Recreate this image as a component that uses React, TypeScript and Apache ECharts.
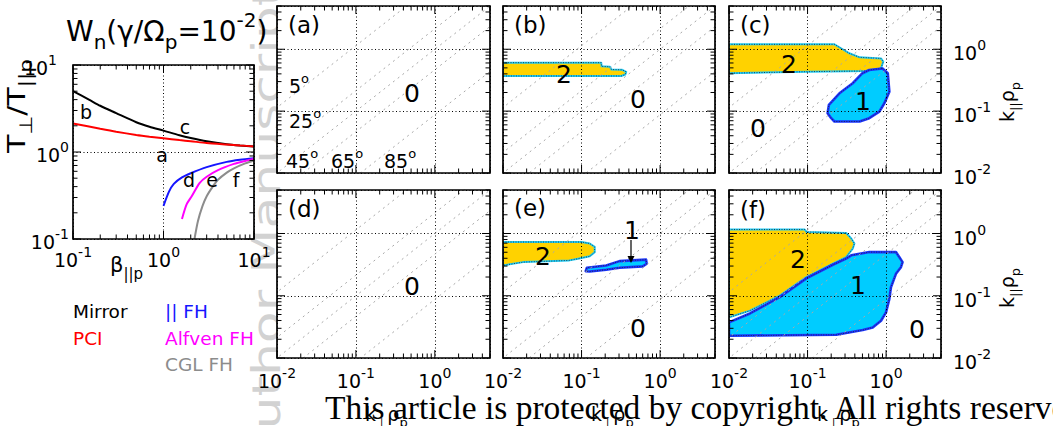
import React, { useEffect, useRef } from "react";
import * as echarts from "echarts";

const FONT = "DejaVu Sans";

// ---------- axis ranges ----------
const panelRange = [0.01, 5];
const leftRange = [0.1, 10];

// ---------- tick values (log minor ticks) ----------
const panelTicks = [
  0.01, 0.02, 0.03, 0.04, 0.05, 0.06, 0.07, 0.08, 0.09,
  0.1, 0.2, 0.3, 0.4, 0.5, 0.6, 0.7, 0.8, 0.9,
  1, 2, 3, 4, 5,
];
const leftTicks = [
  0.1, 0.2, 0.3, 0.4, 0.5, 0.6, 0.7, 0.8, 0.9,
  1, 2, 3, 4, 5, 6, 7, 8, 9, 10,
];

// propagation-angle guide lines (degrees)
const angleDegrees = [5, 25, 45, 65, 85];

// ---------- threshold curves: [beta_||p, T_perp/T_||p] ----------
const mirrorCurve = [
  [0.1, 5.0], [0.15, 4.0], [0.2, 3.4], [0.3, 2.8], [0.5, 2.2], [0.7, 1.95],
  [1, 1.76], [1.5, 1.56], [2, 1.45], [3, 1.33], [5, 1.23], [7, 1.19], [10, 1.16],
];
const pciCurve = [
  [0.1, 2.13], [0.2, 1.85], [0.3, 1.71], [0.5, 1.57], [0.7, 1.5], [1, 1.44],
  [1.5, 1.37], [2, 1.33], [3, 1.27], [5, 1.22], [7, 1.19], [10, 1.16],
];
const parFhCurve = [
  [1, 0.24], [1.15, 0.35], [1.3, 0.43], [1.6, 0.51], [2, 0.57], [3, 0.67],
  [5, 0.77], [7, 0.815], [10, 0.85],
];
const alfvenFhCurve = [
  [1.6, 0.17], [1.8, 0.25], [2.05, 0.31], [2.5, 0.44], [3, 0.52], [4, 0.62],
  [6, 0.73], [8, 0.79], [10, 0.83],
];
const cglFhCurve = [
  [2.2, 0.1], [2.4, 0.16], [2.7, 0.24], [3, 0.31], [3.5, 0.4], [4, 0.48],
  [5, 0.58], [6, 0.65], [8, 0.74], [10, 0.8],
];

// ---------- unstable regions: [k_perp rho_p, k_par rho_p] ----------
const regionB2 = [
  [0.01, 0.607], [0.178, 0.607], [0.18, 0.53], [0.23, 0.52], [0.24, 0.47],
  [0.33, 0.465], [0.37, 0.43], [0.36, 0.39], [0.32, 0.37], [0.01, 0.37],
];
const regionC2 = [
  [0.01, 1.2], [0.22, 1.2], [0.28, 1.0], [0.34, 0.86], [0.46, 0.74], [0.86, 0.71],
  [0.92, 0.63], [0.86, 0.49], [0.56, 0.446], [0.1, 0.434], [0.01, 0.41],
];
const regionC1 = [
  [0.9, 0.49], [1.05, 0.41], [1.1, 0.206], [0.95, 0.134], [0.82, 0.098],
  [0.61, 0.077], [0.46, 0.068], [0.22, 0.068], [0.2, 0.077], [0.18, 0.0925],
  [0.187, 0.126], [0.255, 0.194], [0.376, 0.282], [0.5, 0.41], [0.61, 0.462],
];
const regionE2 = [
  [0.01, 0.73], [0.1, 0.73], [0.127, 0.69], [0.147, 0.61], [0.147, 0.5],
  [0.127, 0.43], [0.09, 0.394], [0.07, 0.37], [0.018, 0.347], [0.01, 0.307],
];
const regionE1 = [
  [0.113, 0.248], [0.117, 0.282], [0.206, 0.307], [0.304, 0.36], [0.663, 0.38],
  [0.675, 0.327], [0.6, 0.296], [0.304, 0.282], [0.206, 0.262], [0.127, 0.245],
];
const regionF2 = [
  [0.01, 1.16], [0.092, 1.16], [0.097, 1.06], [0.31, 1.02], [0.36, 0.83],
  [0.395, 0.69], [0.376, 0.57], [0.31, 0.418], [0.21, 0.327], [0.0966, 0.199],
  [0.0443, 0.1006], [0.0185, 0.0576], [0.01, 0.0449],
];
const regionF1 = [
  [0.01, 0.0373], [0.0185, 0.052], [0.0443, 0.095], [0.0966, 0.19], [0.21, 0.315],
  [0.31, 0.394], [0.36, 0.446], [0.612, 0.503], [1.334, 0.503], [1.47, 0.418],
  [1.62, 0.347], [1.545, 0.288], [1.334, 0.225], [1.153, 0.137], [1.1, 0.089],
  [0.997, 0.054], [0.861, 0.0397], [0.675, 0.031], [0.504, 0.0281],
  [0.232, 0.0236], [0.01, 0.0228],
];

// ---------- layout ----------
const gridsLayout = [
  { left: 73, top: 65, width: 181, height: 174 }, // threshold panel
  { left: 277, top: 6, width: 213, height: 167 }, // a
  { left: 503, top: 6, width: 212, height: 167 }, // b
  { left: 729, top: 6, width: 212, height: 167 }, // c
  { left: 277, top: 190, width: 213, height: 168 }, // d
  { left: 503, top: 190, width: 212, height: 168 }, // e
  { left: 729, top: 190, width: 212, height: 168 }, // f
];

const panelRegions: any[][] = [
  [],
  [[regionB2, 2]],
  [[regionC2, 2], [regionC1, 1]],
  [],
  [[regionE2, 2], [regionE1, 1]],
  [[regionF2, 2], [regionF1, 1]],
];

const curveDefs = [
  { data: mirrorCurve, color: "#000000" },
  { data: pciCurve, color: "#ff0000" },
  { data: parFhCurve, color: "#1515ff" },
  { data: alfvenFhCurve, color: "#ff00ff" },
  { data: cglFhCurve, color: "#8c8c8c" },
];

const tickRich = {
  b: { fontSize: 19, fontFamily: FONT, color: "#000", lineHeight: 30, verticalAlign: "middle" },
  s: { fontSize: 14, fontFamily: FONT, color: "#000", verticalAlign: "top" },
  t: { fontSize: 14, fontFamily: FONT, color: "#000", verticalAlign: "top", padding: [0, 12, 0, 0] },
};

function expOf(v: number): number | null {
  const l = Math.log10(v);
  const e = Math.round(l);
  return Math.abs(l - e) < 1e-6 ? e : null;
}
const expLabel = (v: number) => {
  const e = expOf(v);
  return e === null ? "" : `{b|10}{s|${e}}`;
};
const leftYLabel = (v: number) => {
  const e = expOf(v);
  if (e === null) return "";
  return e === 1 ? `{b|10}{t|${e}}` : `{b|10}{s|${e}}`;
};

function axisBase(gridIndex: number, range: number[]) {
  return {
    gridIndex,
    type: "log",
    logBase: 10,
    min: range[0],
    max: range[1],
    axisLine: { show: false },
    axisTick: { show: false },
    minorTick: { show: false },
    splitLine: { show: true, lineStyle: { color: "#000", width: 1, type: [1, 2.5] } },
    z: 3,
  };
}

function tickSeries(gi: number, ticks: number[], range: number[]) {
  return {
    type: "custom",
    coordinateSystem: "cartesian2d",
    xAxisIndex: gi,
    yAxisIndex: gi,
    data: ticks.map((v) => [v, v]),
    z: 10,
    silent: true,
    clip: false,
    renderItem: (params: any, api: any) => {
      const v = api.value(0);
      const bl = api.coord([range[0], range[0]]);
      const tr = api.coord([range[1], range[1]]);
      const px = api.coord([v, range[0]])[0];
      const py = api.coord([range[0], v])[1];
      const len = expOf(v) !== null ? 8 : 4.5;
      const st = { stroke: "#000", lineWidth: 1 };
      const children: any[] = [
        { type: "line", shape: { x1: px, y1: bl[1], x2: px, y2: bl[1] - len }, style: st },
        { type: "line", shape: { x1: px, y1: tr[1], x2: px, y2: tr[1] + len }, style: st },
        { type: "line", shape: { x1: bl[0], y1: py, x2: bl[0] + len, y2: py }, style: st },
        { type: "line", shape: { x1: tr[0], y1: py, x2: tr[0] - len, y2: py }, style: st },
      ];
      if (params.dataIndex === 0) {
        children.push({
          type: "rect",
          shape: { x: bl[0], y: tr[1], width: tr[0] - bl[0], height: bl[1] - tr[1] },
          style: { fill: "none", stroke: "#000", lineWidth: 1.7 },
        });
      }
      return { type: "group", children };
    },
  };
}

function regionSeries(gi: number, pts: number[][], kind: number) {
  const fill = kind === 2 ? "#ffd200" : "#00ccff";
  const stroke = kind === 2 ? "#22ccf5" : "#1a35ff";
  const lw = kind === 2 ? 2 : 2.6;
  return {
    type: "custom",
    coordinateSystem: "cartesian2d",
    xAxisIndex: gi,
    yAxisIndex: gi,
    data: pts,
    z: 2,
    silent: true,
    clip: true,
    renderItem: (params: any, api: any) => {
      if (params.dataIndex !== 0) return null;
      const points = pts.map((p) => api.coord(p));
      return {
        type: "group",
        children: [
          { type: "polygon", shape: { points }, style: { fill, stroke, lineWidth: lw, lineJoin: "round" } },
          { type: "polygon", shape: { points }, style: { fill: "none", stroke: "#222", lineWidth: 0.8, lineDash: [1, 1.5] } },
        ],
      };
    },
  };
}

function angleSeries(gi: number) {
  return angleDegrees.map((deg) => {
    const cot = 1 / Math.tan((deg * Math.PI) / 180);
    return {
      type: "line",
      xAxisIndex: gi,
      yAxisIndex: gi,
      data: [[1e-4, 1e-4 * cot], [1e2, 1e2 * cot]],
      showSymbol: false,
      silent: true,
      clip: true,
      z: 4,
      lineStyle: { color: "#a8a8a8", width: 1, type: [2, 4] },
    };
  });
}

function richG(size: number, color: string) {
  const small = Math.round(size * 0.7);
  return {
    b: { fontSize: size, fontFamily: FONT, fill: color, lineHeight: Math.round(size * 1.5), verticalAlign: "middle" },
    s: { fontSize: small, fontFamily: FONT, fill: color, verticalAlign: "bottom" },
    u: { fontSize: small, fontFamily: FONT, fill: color, verticalAlign: "top" },
  };
}

function gtext(x: number, y: number, text: string, size: number, color: string, opts: any = {}) {
  return {
    type: "text",
    x,
    y,
    z: 100,
    silent: true,
    rotation: opts.rotation || 0,
    scaleX: opts.scaleX || 1,
    style: {
      text,
      rich: richG(size, color),
      fill: color,
      fontSize: size,
      fontFamily: opts.family || FONT,
      align: opts.align || "left",
      verticalAlign: "middle",
    },
  };
}

function buildGraphics() {
  const els: any[] = [];
  // faint watermark
  els.push({
    type: "text",
    x: 266,
    y: 465,
    rotation: Math.PI / 2,
    scaleY: 0.75,
    z: -10,
    silent: true,
    style: {
      text: "Author Manuscript",
      fontSize: 52,
      fontFamily: FONT,
      fill: "#d2d2d2",
      align: "left",
      verticalAlign: "middle",
    },
  });
  // left panel labels
  els.push(gtext(66, 31, "{b|W}{s|n}{b|(γ/Ω}{s|p}{b|=10}{u|-2}{b|)}", 28, "#000"));
  els.push(gtext(16, 106, "{b|T}{s|⊥}{b|/T}{s|||p}", 25, "#000", { align: "center", rotation: Math.PI / 2, scaleX: 1.2 }));
  els.push(gtext(110, 265, "{b|β}{s|||p}", 21, "#000"));
  const letters: [string, number, number][] = [
    ["b", 86, 112], ["c", 185, 127], ["a", 162, 155], ["d", 189, 180], ["e", 212, 180], ["f", 236, 180],
  ];
  letters.forEach(([t, x, y]) => els.push(gtext(x, y, `{b|${t}}`, 19, "#000", { align: "center" })));
  // legend
  els.push(gtext(73, 311, "{b|Mirror}", 18.5, "#000"));
  els.push(gtext(73, 338, "{b|PCI}", 18.5, "#ff0000"));
  els.push(gtext(165, 311, "{b|\u007c\u007c FH}", 18.5, "#1515ff"));
  els.push(gtext(165, 338, "{b|Alfven FH}", 18.5, "#ff00ff"));
  els.push(gtext(165, 364, "{b|CGL FH}", 18.5, "#8c8c8c"));
  // panel letters
  const pl: [string, number, number][] = [
    ["(a)", 288, 25], ["(b)", 514, 25], ["(c)", 740, 25], ["(d)", 288, 209], ["(e)", 514, 208], ["(f)", 740, 210],
  ];
  pl.forEach(([t, x, y]) => els.push(gtext(x, y, `{b|${t}}`, 23, "#000")));
  // region numbers
  const nums: [string, number, number][] = [
    ["0", 412, 93], ["2", 564, 74], ["0", 638, 99], ["2", 789, 64], ["1", 863, 101], ["0", 758, 128],
    ["0", 412, 286], ["2", 543, 256], ["1", 632, 230], ["0", 638, 328], ["2", 798, 259], ["1", 858, 285], ["0", 917, 329],
  ];
  nums.forEach(([t, x, y]) => els.push(gtext(x, y, `{b|${t}}`, 25, "#000", { align: "center" })));
  // angle labels
  const ang: [string, number, number][] = [
    ["5", 289, 86], ["25", 289, 121], ["45", 286, 161], ["65", 331, 161], ["85", 384, 161],
  ];
  ang.forEach(([t, x, y]) => els.push(gtext(x, y, `{b|${t}}{u|o}`, 19, "#000")));
  // arrow in (e)
  els.push({ type: "line", z: 100, silent: true, shape: { x1: 631, y1: 240, x2: 631, y2: 257 }, style: { stroke: "#000", lineWidth: 1.2 } });
  els.push({ type: "polygon", z: 100, silent: true, shape: { points: [[627.5, 256], [634.5, 256], [631, 263]] }, style: { fill: "#000" } });
  // axis names
  [365, 591, 817].forEach((x) => els.push(gtext(x, 414, "{b|k}{s|⊥}{b|ρ}{s|p}", 19, "#000")));
  [102, 288].forEach((y) => els.push(gtext(1007, y, "{b|k}{s|||}{b|ρ}{s|p}", 19, "#000", { align: "center", rotation: Math.PI / 2 })));
  // copyright overlay
  els.push({
    type: "text",
    x: 325,
    y: 407,
    z: 120,
    silent: true,
    style: {
      text: "This article is protected by copyright. All rights reserved.",
      fontSize: 33.5,
      fontFamily: "Liberation Serif",
      fill: "#000",
      align: "left",
      verticalAlign: "middle",
    },
  });
  return els;
}

function buildOption() {
  const grid = gridsLayout.map((g) => ({ ...g, show: true, backgroundColor: "#fff", borderWidth: 0 }));
  const xAxis: any[] = [];
  const yAxis: any[] = [];
  const series: any[] = [];

  // threshold panel
  xAxis.push({ ...axisBase(0, leftRange), axisLabel: { show: true, margin: 6, formatter: expLabel, rich: tickRich } });
  yAxis.push({
    ...axisBase(0, leftRange),
    axisLabel: { show: true, margin: 4, formatter: leftYLabel, rich: tickRich, padding: [6, 0, 0, 0] },
  });
  curveDefs.forEach((c) =>
    series.push({
      type: "line",
      xAxisIndex: 0,
      yAxisIndex: 0,
      data: c.data,
      showSymbol: false,
      smooth: 0.25,
      clip: true,
      silent: true,
      z: 5,
      lineStyle: { color: c.color, width: 2 },
    })
  );
  series.push(tickSeries(0, leftTicks, leftRange));

  for (let p = 1; p <= 6; p++) {
    const bottomRow = p >= 4;
    const rightCol = p === 3 || p === 6;
    xAxis.push({
      ...axisBase(p, panelRange),
      axisLabel: bottomRow ? { show: true, margin: 8, formatter: expLabel, rich: tickRich } : { show: false },
    });
    yAxis.push({
      ...axisBase(p, panelRange),
      position: rightCol ? "right" : "left",
      axisLabel: rightCol
        ? { show: true, margin: 12, formatter: expLabel, rich: tickRich, padding: [8, 0, 0, 0], align: "left" }
        : { show: false },
    });
    panelRegions[p - 1].forEach(([pts, kind]: any) => series.push(regionSeries(p, pts, kind)));
    angleSeries(p).forEach((s) => series.push(s));
    series.push(tickSeries(p, panelTicks, panelRange));
  }

  return {
    animation: false,
    backgroundColor: "#fff",
    textStyle: { fontFamily: FONT, color: "#000" },
    grid,
    xAxis,
    yAxis,
    series,
    graphic: { elements: buildGraphics() },
  };
}

export default function App() {
  const ref = useRef<HTMLDivElement>(null);
  useEffect(() => {
    if (!ref.current) return;
    const chart = echarts.init(ref.current, undefined, { renderer: "svg" });
    chart.setOption(buildOption() as any);
    return () => chart.dispose();
  }, []);
  return (
    <div
      ref={ref}
      style={{ position: "fixed", left: 0, top: 0, width: 1053, height: 426, background: "#fff" }}
    />
  );
}
